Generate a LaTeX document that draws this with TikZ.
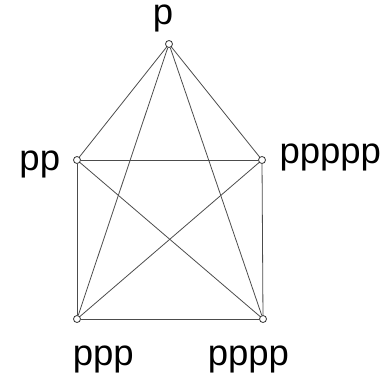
\documentclass[tikz,border=0pt]{standalone}
\usepackage{fontspec}
\setmainfont{Liberation Sans}
\usepackage{tikz}

\begin{document}
\begin{tikzpicture}[x=1pt, y=-1pt,
  font=\fontsize{36.5}{40}\selectfont,
  vtx/.style={circle, draw=black!80, fill=white, line width=0.8pt,
    inner sep=0pt, minimum size=7pt},
  lbl/.style={anchor=base west, inner sep=0pt},
  conn/.style={draw=black!70, line width=0.8pt}]
\useasboundingbox (0,0) rectangle (382,377);
% vertices
\node[vtx] (top)   at (169, 44) {};
\node[vtx] (left)  at ( 77,160) {};
\node[vtx] (right) at (262,160) {};
\node[vtx] (botl)  at ( 77,319) {};
\node[vtx] (botr)  at (263,319) {};
% labels
\node[lbl] (ltop)   at (152.6, 25) {p};
\node[lbl] (lleft)  at ( 19.3,170) {pp};
\node[lbl] (lright) at (279.3,163) {ppppp};
\node[lbl] (lbotl)  at ( 72.6,365) {ppp};
\node[lbl] (lbotr)  at (207.6,365) {pppp};
\foreach \a/\b in {top/left,top/right,top/botl,top/botr,left/right,
    left/botl,left/botr,right/botl,right/botr,botl/botr}
  \draw[conn] (\a) -- (\b);
\end{tikzpicture}
\end{document}
